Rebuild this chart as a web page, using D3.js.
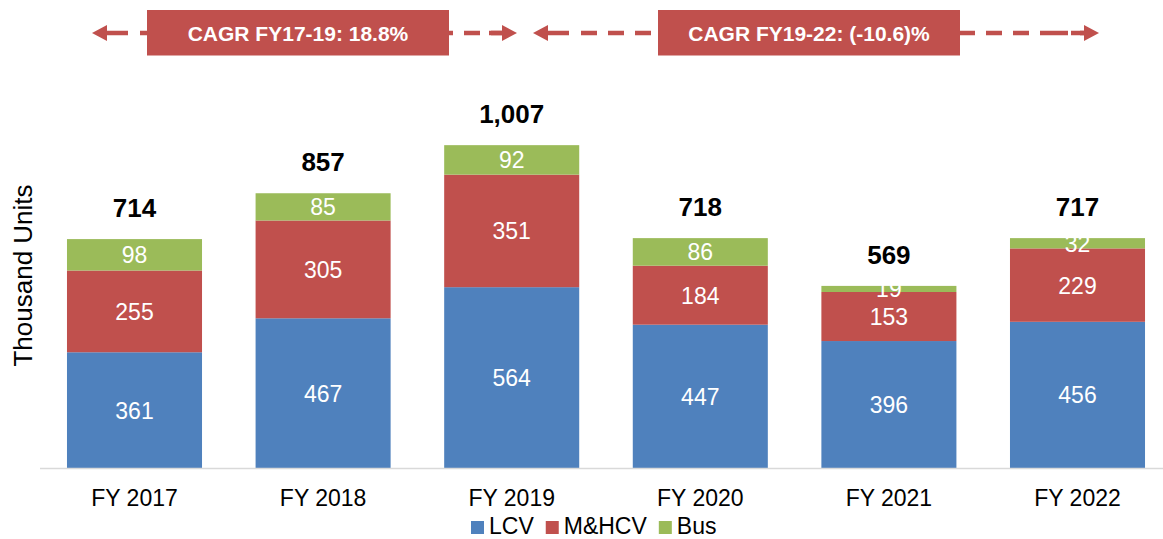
<!DOCTYPE html>
<html>
<head>
<meta charset="utf-8">
<script src="https://cdn.jsdelivr.net/npm/d3@7"></script>
<style>
  html, body { margin: 0; padding: 0; background: #ffffff; }
  svg { display: block; }
  text { font-family: "Liberation Sans", Arial, Helvetica, sans-serif; }
</style>
</head>
<body>
<svg id="chart" width="1163" height="539"></svg>
<script>
// ---- data ----
const categories = ["FY 2017", "FY 2018", "FY 2019", "FY 2020", "FY 2021", "FY 2022"];
const lcv   = [361, 467, 564, 447, 396, 456];
const mhcv  = [255, 305, 351, 184, 153, 229];
const bus   = [98, 85, 92, 86, 19, 32];
const totals = [714, 857, 1007, 718, 569, 717];
const seriesNames = ["LCV", "M&HCV", "Bus"];
const cagrLabels = ["CAGR FY17-19: 18.8%", "CAGR FY19-22: (-10.6)%"];
const yAxisTitle = "Thousand Units";

// ---- styles ----
const colors = ["#4f81bd", "#c0504d", "#9bbb59"];
const annColor = "#c0504d";
const FONT = '"Liberation Sans", Arial, Helvetica, sans-serif';

const svg = d3.select("#chart");

const table = categories.map((c, i) => ({ cat: c, LCV: lcv[i], "M&HCV": mhcv[i], Bus: bus[i], total: totals[i] }));
const stacked = d3.stack().keys(seriesNames)(table);

const baseY = 468;
const x = d3.scaleBand()
  .domain(categories)
  .range([40.2, 1171.8])
  .paddingInner(0.284)
  .paddingOuter(0.142);
const y = d3.scaleLinear().domain([0, 1200]).range([baseY, baseY - 1200 * 0.3206]);

// bars
const layers = svg.append("g").selectAll("g")
  .data(stacked).join("g")
  .attr("fill", (d, i) => colors[i]);

layers.selectAll("rect")
  .data(d => d.map(v => ({ key: d.key, v })))
  .join("rect")
  .attr("x", d => x(d.v.data.cat))
  .attr("width", x.bandwidth())
  .attr("y", d => y(d.v[1]))
  .attr("height", d => y(d.v[0]) - y(d.v[1]));

// segment labels
layers.selectAll("text")
  .data(d => d.map(v => ({ key: d.key, v })))
  .join("text")
  .attr("x", d => x(d.v.data.cat) + x.bandwidth() / 2)
  .attr("y", d => (y(d.v[0]) + y(d.v[1])) / 2 + 8.5)
  .attr("text-anchor", "middle")
  .attr("fill", "#ffffff")
  .style("font-size", "23px")
  .text(d => d.v.data[d.key]);

// axis line (x axis, no ticks)
const xAxis = d3.axisBottom(x).tickSize(0).tickPadding(0);
const gx = svg.append("g").attr("transform", `translate(0,${baseY + 0.5})`).call(xAxis);
gx.select(".domain").attr("stroke", "#d9d9d9").attr("stroke-width", 1.5)
  .attr("d", "M40,0H1163");
gx.selectAll(".tick text")
  .attr("y", 37)
  .attr("dy", null)
  .style("font-family", FONT)
  .style("font-size", "23px")
  .attr("fill", "#000000");

// total labels
const topLayer = stacked[stacked.length - 1];
svg.append("g").selectAll("text")
  .data(topLayer)
  .join("text")
  .attr("x", d => x(d.data.cat) + x.bandwidth() / 2)
  .attr("y", d => y(d[1]) - 22)
  .attr("text-anchor", "middle")
  .style("font-size", "26px")
  .style("font-weight", "bold")
  .attr("fill", "#000000")
  .text(d => d3.format(",")(d.data.total));

// y axis title
svg.append("text")
  .attr("transform", "translate(31.5,275.5) rotate(-90)")
  .attr("text-anchor", "middle")
  .style("font-size", "26px")
  .attr("fill", "#000000")
  .text(yAxisTitle);

// legend
const legend = svg.append("g");
let lx = 471;
seriesNames.forEach((name, i) => {
  legend.append("rect").attr("x", lx).attr("y", 521).attr("width", 13).attr("height", 13).attr("fill", colors[i]);
  const t = legend.append("text").attr("x", lx + 18).attr("y", 533.5)
    .style("font-size", "23px").attr("fill", "#000000").text(name);
  lx += 18 + t.node().getComputedTextLength() + 12;
});

// CAGR annotations: dashed double arrows with boxes
const arrows = [
  { x1: 92, x2: 517, bx0: 147, bx1: 449, label: cagrLabels[0] },
  { x1: 533, x2: 1099, bx0: 658, bx1: 960, label: cagrLabels[1] }
];
const ay = 33;
const ann = svg.append("g");
arrows.forEach(a => {
  ann.append("line").attr("x1", a.x1 + 8).attr("x2", a.x2 - 8).attr("y1", ay).attr("y2", ay)
    .attr("stroke", annColor).attr("stroke-width", 4.5)
    .attr("stroke-dasharray", "28,12,16,11,16,11,16,11,16,11,16,11,16,11,16,11,16,11,16,11,16,11,16,11,16,11,16,11,16,11,16,11,16,11,16,11");
  ann.append("path")
    .attr("d", `M${a.x1},${ay}L${a.x1 + 15},${ay - 8}L${a.x1 + 15},${ay + 8}Z`)
    .attr("fill", annColor);
  ann.append("path")
    .attr("d", `M${a.x2},${ay}L${a.x2 - 15},${ay - 8}L${a.x2 - 15},${ay + 8}Z`)
    .attr("fill", annColor);
  ann.append("line").attr("x1", a.x2 - 28).attr("x2", a.x2 - 10).attr("y1", ay).attr("y2", ay)
    .attr("stroke", annColor).attr("stroke-width", 4.5);
  ann.append("rect").attr("x", a.bx0).attr("y", 10).attr("width", a.bx1 - a.bx0).attr("height", 45.5)
    .attr("fill", annColor);
  ann.append("text").attr("x", (a.bx0 + a.bx1) / 2).attr("y", 40.5)
    .attr("text-anchor", "middle").attr("fill", "#ffffff")
    .style("font-size", "21px").style("font-weight", "bold")
    .text(a.label);
});
</script>
</body>
</html>
